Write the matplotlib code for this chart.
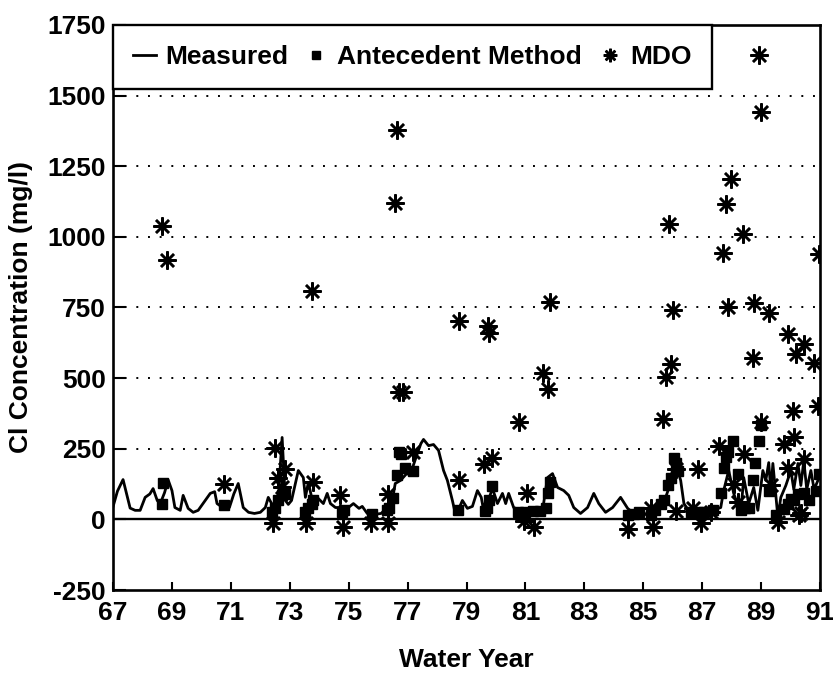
import matplotlib.pyplot as plt

plt.rcParams['font.family'] = ['Liberation Sans', 'DejaVu Sans']
plt.rcParams['font.weight'] = 'bold'
plt.rcParams['axes.unicode_minus'] = False

# Measured chloride, water year vs mg/l
measured_year = [67.0, 67.15, 67.34, 67.45, 67.58, 67.75, 67.92, 68.09, 68.25, 68.36,
                 68.5, 68.6, 68.75, 68.87, 69.0, 69.1, 69.28, 69.38, 69.55, 69.72,
                 69.89, 70.13, 70.3, 70.45, 70.53, 70.75, 70.95, 71.1, 71.25, 71.42,
                 71.6, 71.8, 72.0, 72.17, 72.27, 72.4, 72.6, 72.74, 72.85, 72.95,
                 73.06, 73.29, 73.46, 73.53, 73.63, 73.78, 73.93, 74.14, 74.27, 74.38,
                 74.55, 74.72, 74.99, 75.16, 75.35, 75.46, 75.63, 75.9, 76.1, 76.31,
                 76.48, 76.58, 76.76, 76.95, 77.1, 77.33, 77.45, 77.54, 77.71, 77.88,
                 78.05, 78.22, 78.35, 78.52, 78.62, 78.75, 78.86, 79.03, 79.2, 79.37,
                 79.5, 79.58, 79.75, 79.88, 80.05, 80.22, 80.33, 80.43, 80.6, 80.83,
                 81.1, 81.4, 81.6, 81.75, 81.92, 82.09, 82.3, 82.47, 82.64, 82.87,
                 83.11, 83.32, 83.49, 83.72, 83.96, 84.23, 84.47, 84.68, 84.9, 85.1,
                 85.3, 85.5, 85.7, 85.84, 86.04, 86.15, 86.27, 86.38, 86.61, 86.95,
                 87.3, 87.63, 87.73, 87.9, 88.07, 88.31, 88.41, 88.58, 88.75, 88.89,
                 89.06, 89.16, 89.26, 89.33, 89.4, 89.57, 89.67, 89.84, 90.01, 90.11,
                 90.25, 90.35, 90.45, 90.55, 90.69, 90.8, 90.93, 91.0]
measured_cl = [45, 100, 141, 95, 40, 32, 32, 78, 90, 109,
               67, 55, 95, 140, 102, 42, 32, 85, 39, 25,
               32, 67, 92, 98, 56, 40, 42, 90, 127, 42,
               25, 21, 25, 42, 78, 53, 60, 290, 67, 53,
               67, 173, 148, 78, 131, 60, 78, 56, 92, 56,
               42, 42, 42, 56, 39, 46, 21, 18, 21, 42,
               67, 127, 138, 160, 162, 233, 268, 283, 261, 265,
               244, 173, 138, 67, 21, 40, 67, 39, 46, 102,
               78, 32, 70, 110, 56, 92, 56, 92, 42, 32,
               30, 32, 45, 148, 162, 113, 102, 85, 42, 21,
               42, 92, 56, 25, 42, 78, 39, 21, 20, 18,
               20, 25, 60, 102, 198, 180, 138, 56, 21, 21,
               30, 42, 102, 173, 92, 21, 148, 56, 113, 32,
               173, 138, 201, 100, 198, 7, 78, 120, 173, 106,
               198, 120, 208, 106, 173, 106, 138, 160]

# Antecedent Method estimates
ante_year = [68.67, 68.7, 70.76, 72.4, 72.5, 72.6, 72.74, 72.85, 73.53, 73.63,
             73.76, 73.8, 74.78, 74.85, 75.8, 76.31, 76.38, 76.52, 76.65, 76.7,
             76.78, 76.9, 77.2, 78.7, 79.64, 79.7, 79.75, 79.85, 80.75, 80.99,
             81.26, 81.49, 81.7, 81.75, 81.85, 84.47, 84.7, 84.85, 85.25, 85.4,
             85.6, 85.7, 85.84, 85.94, 86.04, 86.1, 86.18, 86.61, 86.85, 87.05,
             87.36, 87.63, 87.73, 87.8, 87.86, 88.04, 88.2, 88.31, 88.45, 88.58,
             88.72, 88.8, 88.93, 89.0, 89.27, 89.5, 89.77, 89.9, 90.01, 90.11,
             90.25, 90.45, 90.62, 90.86, 90.96]
ante_cl = [55, 130, 50, 25, 39, 67, 85, 90, 25, 39,
           56, 67, 25, 32, 20, 32, 42, 74, 158, 237,
           232, 183, 173, 32, 30, 42, 67, 118, 25, 25,
           28, 30, 42, 92, 131, 14, 18, 25, 14, 32,
           56, 67, 120, 148, 219, 200, 173, 25, 25, 25,
           32, 95, 183, 221, 240, 276, 162, 32, 42, 39,
           138, 200, 279, 335, 100, 14, 35, 53, 72, 67,
           90, 95, 67, 100, 162]

# MDO estimates
mdo_year = [68.67, 68.84, 70.76, 72.44, 72.5, 72.6, 72.74, 72.85, 73.55, 73.8,
            73.76, 74.72, 74.82, 75.77, 76.33, 76.33, 76.58, 76.65, 76.7, 76.85,
            77.2, 78.73, 78.75, 79.58, 79.72, 79.75, 79.88, 80.77, 80.94, 81.07,
            81.3, 81.6, 81.75, 81.85, 84.47, 85.25, 85.32, 85.67, 85.77, 85.87,
            85.94, 86.0, 86.1, 86.1, 86.7, 86.85, 86.95, 87.3, 87.56, 87.7,
            87.8, 87.87, 87.97, 88.07, 88.2, 88.38, 88.41, 88.72, 88.76, 88.93,
            89.0, 89.0, 89.27, 89.33, 89.57, 89.77, 89.9, 89.9, 90.08, 90.11,
            90.18, 90.28, 90.35, 90.45, 90.45, 90.8, 90.93, 90.96]
mdo_cl = [1040, 918, 125, -14, 252, 148, 113, 180, -14, 131,
          808, 85, -28, -14, -14, 90, 1120, 1377, 450, 450,
          237, 703, 138, 195, 685, 660, 219, 343, -4, 92,
          -28, 519, 463, 770, -35, 42, -28, 357, 505, 1045,
          551, 740, 180, 30, 39, 180, -14, 25, 258, 943,
          1116, 752, 1204, 127, 60, 1010, 233, 570, 766, 1645,
          1441, 345, 731, 120, -11, 268, 183, 657, 385, 290,
          586, 14, 21, 621, 215, 554, 403, 939]

x_ticks = list(range(67, 92, 2))
y_ticks = list(range(-250, 1751, 250))
grid_levels = [250, 500, 750, 1000, 1250, 1500]

fig = plt.figure(figsize=(8.33, 6.73), dpi=100)
ax = fig.add_axes([0.1357, 0.1233, 0.8487, 0.8396])

for lvl in grid_levels:
    ax.axhline(lvl, color='black', linestyle=(0, (1, 5)), linewidth=1.4, zorder=1)
ax.axhline(0, color='black', linewidth=1.7, zorder=1)

ax.plot(measured_year, measured_cl, color='black', linewidth=2.0, label='Measured', zorder=2)
ax.plot(ante_year, ante_cl, linestyle='none', marker='s', markersize=7.5,
        color='black', label='Antecedent Method', zorder=3)
ax.plot(mdo_year, mdo_cl, linestyle='none', marker=(8, 2, 0), markersize=13,
        markeredgewidth=1.8, color='black', label='MDO', zorder=4)

ax.set_xlim(67, 91)
ax.set_ylim(-250, 1750)
ax.set_xticks(x_ticks)
ax.set_yticks(y_ticks)

ax.tick_params(axis='x', direction='in', length=6, width=1.5, labelsize=19, pad=8)
ax.tick_params(axis='y', direction='in', length=9.5, width=1.5, labelsize=19, pad=5)
for lab in ax.get_xticklabels() + ax.get_yticklabels():
    lab.set_fontweight('bold')
for sp in ax.spines.values():
    sp.set_linewidth(1.9)

ax.set_xlabel('Water Year', fontsize=19, fontweight='bold')
ax.set_ylabel('Cl Concentration (mg/l)', fontsize=19, fontweight='bold')
ax.xaxis.set_label_coords(0.5, -0.103)
ax.yaxis.set_label_coords(-0.113, 0.5)

leg = ax.legend(loc='upper left', bbox_to_anchor=(0, 1), borderaxespad=0, ncol=3,
                fancybox=False, framealpha=1, edgecolor='black', fontsize=19,
                handlelength=0.87, handletextpad=0.34, columnspacing=0.65,
                borderpad=0.75, markerscale=0.75)
leg.get_frame().set_linewidth(1.7)
for t in leg.get_texts():
    t.set_fontweight('bold')

fig.savefig('out.png', dpi=100)
